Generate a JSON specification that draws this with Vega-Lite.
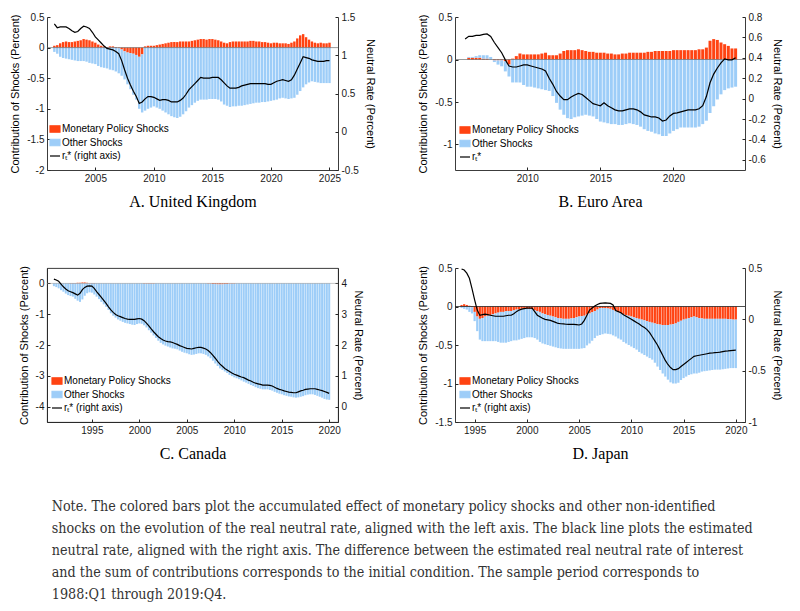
{
  "$schema": "https://vega.github.io/schema/vega-lite/v6.json",
  "padding": {"left": 9, "top": 12, "right": 0, "bottom": 0},
  "background": "white",
  "datasets": {
    "uk": [
      {"t":2001.5,"m":0.03,"o":-0.07,"r":1.41},{"t":2001.75,"m":0.04,"o":-0.10,"r":1.36},{"t":2002,"m":0.07,"o":-0.15,"r":1.37},{"t":2002.25,"m":0.09,"o":-0.17,"r":1.37},
      {"t":2002.5,"m":0.10,"o":-0.18,"r":1.37},{"t":2002.75,"m":0.09,"o":-0.19,"r":1.35},{"t":2003,"m":0.09,"o":-0.20,"r":1.32},{"t":2003.25,"m":0.10,"o":-0.21,"r":1.30},
      {"t":2003.5,"m":0.11,"o":-0.22,"r":1.31},{"t":2003.75,"m":0.12,"o":-0.22,"r":1.35},{"t":2004,"m":0.14,"o":-0.22,"r":1.38},{"t":2004.25,"m":0.13,"o":-0.23,"r":1.37},
      {"t":2004.5,"m":0.12,"o":-0.25,"r":1.35},{"t":2004.75,"m":0.10,"o":-0.26,"r":1.30},{"t":2005,"m":0.08,"o":-0.27,"r":1.24},{"t":2005.25,"m":0.05,"o":-0.30,"r":1.20},
      {"t":2005.5,"m":0.03,"o":-0.32,"r":1.16},{"t":2005.75,"m":0.02,"o":-0.33,"r":1.12},{"t":2006,"m":0.01,"o":-0.34,"r":1.09},{"t":2006.25,"m":0.02,"o":-0.36,"r":1.08},
      {"t":2006.5,"m":0.02,"o":-0.37,"r":1.07},{"t":2006.75,"m":0.01,"o":-0.39,"r":1.05},{"t":2007,"m":-0.01,"o":-0.41,"r":1.02},{"t":2007.25,"m":-0.03,"o":-0.43,"r":0.93},
      {"t":2007.5,"m":-0.06,"o":-0.46,"r":0.81},{"t":2007.75,"m":-0.08,"o":-0.52,"r":0.70},{"t":2008,"m":-0.09,"o":-0.59,"r":0.61},{"t":2008.25,"m":-0.10,"o":-0.67,"r":0.53},
      {"t":2008.5,"m":-0.12,"o":-0.73,"r":0.46},{"t":2008.75,"m":-0.15,"o":-0.85,"r":0.37},{"t":2009,"m":-0.11,"o":-0.95,"r":0.39},{"t":2009.25,"m":0.02,"o":-1.03,"r":0.43},
      {"t":2009.5,"m":0.03,"o":-1.00,"r":0.46},{"t":2009.75,"m":0.03,"o":-0.98,"r":0.46},{"t":2010,"m":0.03,"o":-0.96,"r":0.45},{"t":2010.25,"m":0.04,"o":-0.98,"r":0.43},
      {"t":2010.5,"m":0.05,"o":-1.00,"r":0.41},{"t":2010.75,"m":0.06,"o":-1.03,"r":0.42},{"t":2011,"m":0.07,"o":-1.06,"r":0.42},{"t":2011.25,"m":0.08,"o":-1.09,"r":0.41},
      {"t":2011.5,"m":0.09,"o":-1.12,"r":0.39},{"t":2011.75,"m":0.09,"o":-1.14,"r":0.39},{"t":2012,"m":0.09,"o":-1.15,"r":0.39},{"t":2012.25,"m":0.10,"o":-1.13,"r":0.41},
      {"t":2012.5,"m":0.10,"o":-1.09,"r":0.44},{"t":2012.75,"m":0.10,"o":-1.04,"r":0.49},{"t":2013,"m":0.10,"o":-0.98,"r":0.55},{"t":2013.25,"m":0.11,"o":-0.94,"r":0.59},
      {"t":2013.5,"m":0.12,"o":-0.90,"r":0.63},{"t":2013.75,"m":0.13,"o":-0.87,"r":0.67},{"t":2014,"m":0.14,"o":-0.85,"r":0.71},{"t":2014.25,"m":0.14,"o":-0.85,"r":0.70},
      {"t":2014.5,"m":0.13,"o":-0.85,"r":0.70},{"t":2014.75,"m":0.14,"o":-0.84,"r":0.70},{"t":2015,"m":0.14,"o":-0.84,"r":0.71},{"t":2015.25,"m":0.13,"o":-0.84,"r":0.71},
      {"t":2015.5,"m":0.12,"o":-0.85,"r":0.71},{"t":2015.75,"m":0.10,"o":-0.88,"r":0.68},{"t":2016,"m":0.08,"o":-0.93,"r":0.64},{"t":2016.25,"m":0.07,"o":-0.95,"r":0.60},
      {"t":2016.5,"m":0.09,"o":-0.97,"r":0.57},{"t":2016.75,"m":0.10,"o":-0.96,"r":0.57},{"t":2017,"m":0.10,"o":-0.96,"r":0.57},{"t":2017.25,"m":0.10,"o":-0.95,"r":0.58},
      {"t":2017.5,"m":0.10,"o":-0.95,"r":0.60},{"t":2017.75,"m":0.10,"o":-0.94,"r":0.61},{"t":2018,"m":0.10,"o":-0.93,"r":0.62},{"t":2018.25,"m":0.11,"o":-0.92,"r":0.63},
      {"t":2018.5,"m":0.11,"o":-0.91,"r":0.63},{"t":2018.75,"m":0.10,"o":-0.90,"r":0.63},{"t":2019,"m":0.10,"o":-0.90,"r":0.63},{"t":2019.25,"m":0.09,"o":-0.89,"r":0.63},
      {"t":2019.5,"m":0.09,"o":-0.89,"r":0.63},{"t":2019.75,"m":0.08,"o":-0.88,"r":0.62},{"t":2020,"m":0.07,"o":-0.87,"r":0.62},{"t":2020.25,"m":0.08,"o":-0.86,"r":0.64},
      {"t":2020.5,"m":0.08,"o":-0.85,"r":0.66},{"t":2020.75,"m":0.07,"o":-0.83,"r":0.67},{"t":2021,"m":0.07,"o":-0.82,"r":0.68},{"t":2021.25,"m":0.07,"o":-0.83,"r":0.67},
      {"t":2021.5,"m":0.06,"o":-0.84,"r":0.66},{"t":2021.75,"m":0.08,"o":-0.83,"r":0.68},{"t":2022,"m":0.10,"o":-0.82,"r":0.74},{"t":2022.25,"m":0.15,"o":-0.77,"r":0.82},
      {"t":2022.5,"m":0.20,"o":-0.71,"r":0.90},{"t":2022.75,"m":0.22,"o":-0.65,"r":0.98},{"t":2023,"m":0.17,"o":-0.60,"r":0.97},{"t":2023.25,"m":0.13,"o":-0.57,"r":0.96},
      {"t":2023.5,"m":0.10,"o":-0.55,"r":0.94},{"t":2023.75,"m":0.08,"o":-0.56,"r":0.93},{"t":2024,"m":0.07,"o":-0.57,"r":0.92},{"t":2024.25,"m":0.08,"o":-0.58,"r":0.92},
      {"t":2024.5,"m":0.07,"o":-0.58,"r":0.92},{"t":2024.75,"m":0.07,"o":-0.58,"r":0.93},{"t":2025,"m":0.08,"o":-0.58,"r":0.93}
    ],
    "ea": [
      {"t":2005.75,"r":0.585},{"t":2006,"m":0.02,"o":0.01,"r":0.61},{"t":2006.25,"m":0.02,"o":0.01,"r":0.61},{"t":2006.5,"m":0.02,"o":0.02,"r":0.62},
      {"t":2006.75,"m":0.02,"o":0.03,"r":0.62},{"t":2007,"m":0.01,"o":0.04,"r":0.63},{"t":2007.25,"m":0.01,"o":0.04,"r":0.634},{"t":2007.5,"m":0.0,"o":0.03,"r":0.61},
      {"t":2007.75,"m":-0.01,"o":-0.02,"r":0.55},{"t":2008,"m":-0.01,"o":-0.05,"r":0.50},{"t":2008.25,"m":-0.01,"o":-0.07,"r":0.45},{"t":2008.5,"m":-0.02,"o":-0.12,"r":0.38},
      {"t":2008.75,"m":-0.06,"o":-0.14,"r":0.32},{"t":2009,"m":0.01,"o":-0.27,"r":0.31},{"t":2009.25,"m":0.04,"o":-0.27,"r":0.31},{"t":2009.5,"m":0.07,"o":-0.27,"r":0.32},
      {"t":2009.75,"m":0.06,"o":-0.30,"r":0.33},{"t":2010,"m":0.06,"o":-0.32,"r":0.33},{"t":2010.25,"m":0.06,"o":-0.32,"r":0.32},{"t":2010.5,"m":0.06,"o":-0.33,"r":0.31},
      {"t":2010.75,"m":0.06,"o":-0.34,"r":0.30},{"t":2011,"m":0.07,"o":-0.35,"r":0.29},{"t":2011.25,"m":0.08,"o":-0.36,"r":0.27},{"t":2011.5,"m":0.05,"o":-0.37,"r":0.20},
      {"t":2011.75,"m":0.05,"o":-0.43,"r":0.14},{"t":2012,"m":0.05,"o":-0.51,"r":0.07},{"t":2012.25,"m":0.07,"o":-0.59,"r":0.025},{"t":2012.5,"m":0.10,"o":-0.65,"r":-0.01},
      {"t":2012.75,"m":0.11,"o":-0.69,"r":-0.01},{"t":2013,"m":0.11,"o":-0.70,"r":0.015},{"t":2013.25,"m":0.11,"o":-0.68,"r":0.035},{"t":2013.5,"m":0.12,"o":-0.67,"r":0.05},
      {"t":2013.75,"m":0.11,"o":-0.66,"r":0.04},{"t":2014,"m":0.10,"o":-0.65,"r":0.01},{"t":2014.25,"m":0.09,"o":-0.66,"r":-0.02},{"t":2014.5,"m":0.09,"o":-0.67,"r":-0.05},
      {"t":2014.75,"m":0.08,"o":-0.70,"r":-0.06},{"t":2015,"m":0.08,"o":-0.73,"r":-0.07},{"t":2015.25,"m":0.08,"o":-0.74,"r":-0.04},{"t":2015.5,"m":0.07,"o":-0.75,"r":-0.07},
      {"t":2015.75,"m":0.07,"o":-0.76,"r":-0.09},{"t":2016,"m":0.06,"o":-0.76,"r":-0.11},{"t":2016.25,"m":0.06,"o":-0.77,"r":-0.12},{"t":2016.5,"m":0.07,"o":-0.77,"r":-0.12},
      {"t":2016.75,"m":0.07,"o":-0.76,"r":-0.11},{"t":2017,"m":0.08,"o":-0.75,"r":-0.10},{"t":2017.25,"m":0.08,"o":-0.76,"r":-0.10},{"t":2017.5,"m":0.08,"o":-0.77,"r":-0.11},
      {"t":2017.75,"m":0.08,"o":-0.79,"r":-0.13},{"t":2018,"m":0.08,"o":-0.82,"r":-0.16},{"t":2018.25,"m":0.09,"o":-0.84,"r":-0.17},{"t":2018.5,"m":0.09,"o":-0.85,"r":-0.18},
      {"t":2018.75,"m":0.10,"o":-0.87,"r":-0.18},{"t":2019,"m":0.10,"o":-0.88,"r":-0.19},{"t":2019.25,"m":0.10,"o":-0.90,"r":-0.22},{"t":2019.5,"m":0.10,"o":-0.90,"r":-0.21},
      {"t":2019.75,"m":0.10,"o":-0.87,"r":-0.17},{"t":2020,"m":0.11,"o":-0.84,"r":-0.145},{"t":2020.25,"m":0.11,"o":-0.82,"r":-0.14},{"t":2020.5,"m":0.11,"o":-0.80,"r":-0.13},
      {"t":2020.75,"m":0.11,"o":-0.80,"r":-0.12},{"t":2021,"m":0.11,"o":-0.80,"r":-0.11},{"t":2021.25,"m":0.11,"o":-0.80,"r":-0.11},{"t":2021.5,"m":0.11,"o":-0.80,"r":-0.11},
      {"t":2021.75,"m":0.12,"o":-0.79,"r":-0.10},{"t":2022,"m":0.12,"o":-0.76,"r":-0.07},{"t":2022.25,"m":0.14,"o":-0.72,"r":0.02},{"t":2022.5,"m":0.22,"o":-0.63,"r":0.155},
      {"t":2022.75,"m":0.24,"o":-0.55,"r":0.24},{"t":2023,"m":0.23,"o":-0.47,"r":0.30},{"t":2023.25,"m":0.20,"o":-0.41,"r":0.35},{"t":2023.5,"m":0.18,"o":-0.36,"r":0.39},
      {"t":2023.75,"m":0.16,"o":-0.34,"r":0.38},{"t":2024,"m":0.13,"o":-0.33,"r":0.38},{"t":2024.25,"m":0.13,"o":-0.32,"r":0.40}
    ],
    "ca": [
      {"t":1991,"m":0,"o":-0.09,"r":4.14},{"t":1991.25,"m":0,"o":-0.12,"r":4.11},{"t":1991.5,"m":0,"o":-0.16,"r":4.07},{"t":1991.75,"m":0,"o":-0.22,"r":3.98},
      {"t":1992,"m":0,"o":-0.27,"r":3.89},{"t":1992.25,"m":0,"o":-0.33,"r":3.82},{"t":1992.5,"m":0,"o":-0.38,"r":3.76},{"t":1992.75,"m":0.01,"o":-0.41,"r":3.73},
      {"t":1993,"m":0.01,"o":-0.43,"r":3.70},{"t":1993.25,"m":0.01,"o":-0.50,"r":3.66},{"t":1993.5,"m":0.02,"o":-0.56,"r":3.62},{"t":1993.75,"m":0.02,"o":-0.60,"r":3.68},
      {"t":1994,"m":0.03,"o":-0.52,"r":3.80},{"t":1994.25,"m":0.03,"o":-0.40,"r":3.87},{"t":1994.5,"m":0.02,"o":-0.32,"r":3.91},{"t":1994.75,"m":0.01,"o":-0.29,"r":3.92},
      {"t":1995,"m":0.01,"o":-0.30,"r":3.91},{"t":1995.25,"m":0.01,"o":-0.36,"r":3.84},{"t":1995.5,"m":0,"o":-0.43,"r":3.73},{"t":1995.75,"m":0,"o":-0.51,"r":3.64},
      {"t":1996,"m":0,"o":-0.60,"r":3.55},{"t":1996.25,"m":0,"o":-0.68,"r":3.45},{"t":1996.5,"m":0,"o":-0.76,"r":3.35},{"t":1996.75,"m":0,"o":-0.86,"r":3.24},
      {"t":1997,"m":0,"o":-0.97,"r":3.14},{"t":1997.25,"m":0,"o":-1.05,"r":3.06},{"t":1997.5,"m":0,"o":-1.11,"r":2.99},{"t":1997.75,"m":0,"o":-1.17,"r":2.95},
      {"t":1998,"m":0,"o":-1.21,"r":2.92},{"t":1998.25,"m":0,"o":-1.25,"r":2.89},{"t":1998.5,"m":0,"o":-1.28,"r":2.86},{"t":1998.75,"m":0,"o":-1.30,"r":2.84},
      {"t":1999,"m":0,"o":-1.32,"r":2.83},{"t":1999.25,"m":0,"o":-1.34,"r":2.83},{"t":1999.5,"m":0,"o":-1.35,"r":2.83},{"t":1999.75,"m":0,"o":-1.32,"r":2.85},
      {"t":2000,"m":0,"o":-1.30,"r":2.86},{"t":2000.25,"m":0,"o":-1.31,"r":2.84},{"t":2000.5,"m":-0.01,"o":-1.35,"r":2.79},{"t":2000.75,"m":-0.01,"o":-1.42,"r":2.71},
      {"t":2001,"m":-0.01,"o":-1.51,"r":2.62},{"t":2001.25,"m":-0.01,"o":-1.59,"r":2.52},{"t":2001.5,"m":-0.01,"o":-1.68,"r":2.43},{"t":2001.75,"m":0,"o":-1.77,"r":2.35},
      {"t":2002,"m":0,"o":-1.86,"r":2.27},{"t":2002.25,"m":0,"o":-1.93,"r":2.21},{"t":2002.5,"m":0,"o":-1.98,"r":2.16},{"t":2002.75,"m":0,"o":-2.02,"r":2.13},
      {"t":2003,"m":0,"o":-2.05,"r":2.11},{"t":2003.25,"m":0,"o":-2.08,"r":2.10},{"t":2003.5,"m":0,"o":-2.11,"r":2.08},{"t":2003.75,"m":0,"o":-2.12,"r":2.05},
      {"t":2004,"m":0,"o":-2.14,"r":2.02},{"t":2004.25,"m":0,"o":-2.18,"r":1.98},{"t":2004.5,"m":0,"o":-2.22,"r":1.95},{"t":2004.75,"m":0,"o":-2.25,"r":1.92},
      {"t":2005,"m":0,"o":-2.27,"r":1.89},{"t":2005.25,"m":0,"o":-2.30,"r":1.88},{"t":2005.5,"m":0,"o":-2.32,"r":1.87},{"t":2005.75,"m":0,"o":-2.31,"r":1.89},
      {"t":2006,"m":0,"o":-2.29,"r":1.91},{"t":2006.25,"m":0,"o":-2.27,"r":1.92},{"t":2006.5,"m":0,"o":-2.27,"r":1.92},{"t":2006.75,"m":0,"o":-2.29,"r":1.90},
      {"t":2007,"m":0,"o":-2.32,"r":1.87},{"t":2007.25,"m":-0.01,"o":-2.36,"r":1.82},{"t":2007.5,"m":-0.01,"o":-2.42,"r":1.75},{"t":2007.75,"m":-0.02,"o":-2.49,"r":1.66},
      {"t":2008,"m":-0.02,"o":-2.58,"r":1.57},{"t":2008.25,"m":-0.03,"o":-2.65,"r":1.47},{"t":2008.5,"m":-0.03,"o":-2.73,"r":1.38},{"t":2008.75,"m":-0.03,"o":-2.78,"r":1.31},
      {"t":2009,"m":-0.02,"o":-2.84,"r":1.24},{"t":2009.25,"m":-0.02,"o":-2.89,"r":1.19},{"t":2009.5,"m":-0.01,"o":-2.96,"r":1.14},{"t":2009.75,"m":-0.01,"o":-3.00,"r":1.09},
      {"t":2010,"m":-0.01,"o":-3.04,"r":1.05},{"t":2010.25,"m":0,"o":-3.08,"r":1.02},{"t":2010.5,"m":0,"o":-3.11,"r":0.99},{"t":2010.75,"m":0,"o":-3.15,"r":0.96},
      {"t":2011,"m":0,"o":-3.19,"r":0.94},{"t":2011.25,"m":0,"o":-3.22,"r":0.90},{"t":2011.5,"m":0,"o":-3.26,"r":0.86},{"t":2011.75,"m":0,"o":-3.30,"r":0.83},
      {"t":2012,"m":0,"o":-3.33,"r":0.79},{"t":2012.25,"m":0,"o":-3.37,"r":0.76},{"t":2012.5,"m":0,"o":-3.40,"r":0.74},{"t":2012.75,"m":0,"o":-3.42,"r":0.72},
      {"t":2013,"m":0,"o":-3.44,"r":0.70},{"t":2013.25,"m":0,"o":-3.44,"r":0.70},{"t":2013.5,"m":0,"o":-3.44,"r":0.70},{"t":2013.75,"m":0,"o":-3.46,"r":0.69},
      {"t":2014,"m":0,"o":-3.48,"r":0.67},{"t":2014.25,"m":0,"o":-3.52,"r":0.63},{"t":2014.5,"m":0,"o":-3.55,"r":0.59},{"t":2014.75,"m":0,"o":-3.58,"r":0.56},
      {"t":2015,"m":0,"o":-3.60,"r":0.54},{"t":2015.25,"m":0,"o":-3.63,"r":0.51},{"t":2015.5,"m":0,"o":-3.65,"r":0.49},{"t":2015.75,"m":0,"o":-3.67,"r":0.47},
      {"t":2016,"m":0,"o":-3.68,"r":0.46},{"t":2016.25,"m":0,"o":-3.70,"r":0.45},{"t":2016.5,"m":0,"o":-3.71,"r":0.45},{"t":2016.75,"m":0,"o":-3.70,"r":0.48},
      {"t":2017,"m":0,"o":-3.68,"r":0.51},{"t":2017.25,"m":0,"o":-3.66,"r":0.53},{"t":2017.5,"m":0,"o":-3.63,"r":0.56},{"t":2017.75,"m":0,"o":-3.61,"r":0.57},
      {"t":2018,"m":0,"o":-3.60,"r":0.58},{"t":2018.25,"m":0,"o":-3.60,"r":0.58},{"t":2018.5,"m":0,"o":-3.62,"r":0.58},{"t":2018.75,"m":0,"o":-3.65,"r":0.56},
      {"t":2019,"m":0,"o":-3.68,"r":0.54},{"t":2019.25,"m":0,"o":-3.71,"r":0.52},{"t":2019.5,"m":0,"o":-3.75,"r":0.49},{"t":2019.75,"m":0,"o":-3.77,"r":0.46},
      {"t":2020,"m":0,"o":-3.78,"r":0.43}
    ],
    "jp": [
      {"t":1993.75,"m":0.02,"o":-0.02,"r":0.49},{"t":1994,"m":0.03,"o":-0.03,"r":0.48},{"t":1994.25,"m":0.02,"o":-0.04,"r":0.45},{"t":1994.5,"m":0.01,"o":-0.07,"r":0.40},
      {"t":1994.75,"m":-0.01,"o":-0.08,"r":0.30},{"t":1995,"m":-0.07,"o":-0.12,"r":0.19},{"t":1995.25,"m":-0.13,"o":-0.19,"r":0.09},{"t":1995.5,"m":-0.16,"o":-0.27,"r":0.04},
      {"t":1995.75,"m":-0.15,"o":-0.30,"r":0.045},{"t":1996,"m":-0.13,"o":-0.32,"r":0.05},{"t":1996.25,"m":-0.12,"o":-0.33,"r":0.045},{"t":1996.5,"m":-0.11,"o":-0.34,"r":0.04},
      {"t":1996.75,"m":-0.10,"o":-0.35,"r":0.035},{"t":1997,"m":-0.09,"o":-0.36,"r":0.03},{"t":1997.25,"m":-0.08,"o":-0.38,"r":0.03},{"t":1997.5,"m":-0.07,"o":-0.40,"r":0.03},
      {"t":1997.75,"m":-0.07,"o":-0.40,"r":0.03},{"t":1998,"m":-0.06,"o":-0.41,"r":0.035},{"t":1998.25,"m":-0.06,"o":-0.40,"r":0.04},{"t":1998.5,"m":-0.06,"o":-0.39,"r":0.04},
      {"t":1998.75,"m":-0.05,"o":-0.39,"r":0.055},{"t":1999,"m":-0.04,"o":-0.40,"r":0.075},{"t":1999.25,"m":-0.04,"o":-0.39,"r":0.09},{"t":1999.5,"m":-0.03,"o":-0.39,"r":0.10},
      {"t":1999.75,"m":-0.03,"o":-0.38,"r":0.105},{"t":2000,"m":-0.03,"o":-0.37,"r":0.11},{"t":2000.25,"m":-0.03,"o":-0.37,"r":0.11},{"t":2000.5,"m":-0.035,"o":-0.365,"r":0.11},
      {"t":2000.75,"m":-0.05,"o":-0.36,"r":0.075},{"t":2001,"m":-0.06,"o":-0.37,"r":0.04},{"t":2001.25,"m":-0.07,"o":-0.39,"r":0.025},{"t":2001.5,"m":-0.09,"o":-0.39,"r":0.01},
      {"t":2001.75,"m":-0.10,"o":-0.39,"r":0.0},{"t":2002,"m":-0.11,"o":-0.39,"r":-0.005},{"t":2002.25,"m":-0.12,"o":-0.39,"r":-0.01},{"t":2002.5,"m":-0.13,"o":-0.39,"r":-0.02},
      {"t":2002.75,"m":-0.14,"o":-0.39,"r":-0.03},{"t":2003,"m":-0.15,"o":-0.39,"r":-0.04},{"t":2003.25,"m":-0.155,"o":-0.39,"r":-0.043},{"t":2003.5,"m":-0.16,"o":-0.39,"r":-0.045},
      {"t":2003.75,"m":-0.16,"o":-0.39,"r":-0.048},{"t":2004,"m":-0.16,"o":-0.39,"r":-0.05},{"t":2004.25,"m":-0.155,"o":-0.395,"r":-0.05},{"t":2004.5,"m":-0.15,"o":-0.40,"r":-0.05},
      {"t":2004.75,"m":-0.14,"o":-0.41,"r":-0.052},{"t":2005,"m":-0.13,"o":-0.42,"r":-0.055},{"t":2005.25,"m":-0.125,"o":-0.42,"r":-0.045},{"t":2005.5,"m":-0.12,"o":-0.42,"r":-0.01},
      {"t":2005.75,"m":-0.105,"o":-0.40,"r":0.04},{"t":2006,"m":-0.09,"o":-0.39,"r":0.09},{"t":2006.25,"m":-0.075,"o":-0.37,"r":0.11},{"t":2006.5,"m":-0.06,"o":-0.35,"r":0.13},
      {"t":2006.75,"m":-0.04,"o":-0.34,"r":0.145},{"t":2007,"m":-0.02,"o":-0.35,"r":0.155},{"t":2007.25,"m":-0.02,"o":-0.34,"r":0.158},{"t":2007.5,"m":-0.02,"o":-0.33,"r":0.16},
      {"t":2007.75,"m":-0.025,"o":-0.33,"r":0.158},{"t":2008,"m":-0.03,"o":-0.33,"r":0.155},{"t":2008.25,"m":-0.045,"o":-0.33,"r":0.14},{"t":2008.5,"m":-0.06,"o":-0.33,"r":0.085},
      {"t":2008.75,"m":-0.075,"o":-0.34,"r":0.075},{"t":2009,"m":-0.09,"o":-0.34,"r":0.065},{"t":2009.25,"m":-0.10,"o":-0.36,"r":0.045},{"t":2009.5,"m":-0.11,"o":-0.37,"r":0.03},
      {"t":2009.75,"m":-0.12,"o":-0.38,"r":0.015},{"t":2010,"m":-0.13,"o":-0.39,"r":0.0},{"t":2010.25,"m":-0.14,"o":-0.40,"r":-0.015},{"t":2010.5,"m":-0.15,"o":-0.41,"r":-0.03},
      {"t":2010.75,"m":-0.16,"o":-0.43,"r":-0.045},{"t":2011,"m":-0.17,"o":-0.44,"r":-0.065},{"t":2011.25,"m":-0.18,"o":-0.45,"r":-0.08},{"t":2011.5,"m":-0.19,"o":-0.46,"r":-0.10},
      {"t":2011.75,"m":-0.20,"o":-0.47,"r":-0.13},{"t":2012,"m":-0.21,"o":-0.48,"r":-0.17},{"t":2012.25,"m":-0.22,"o":-0.51,"r":-0.21},{"t":2012.5,"m":-0.23,"o":-0.55,"r":-0.25},
      {"t":2012.75,"m":-0.235,"o":-0.59,"r":-0.30},{"t":2013,"m":-0.24,"o":-0.63,"r":-0.35},{"t":2013.25,"m":-0.24,"o":-0.67,"r":-0.40},{"t":2013.5,"m":-0.24,"o":-0.71,"r":-0.44},
      {"t":2013.75,"m":-0.235,"o":-0.75,"r":-0.47},{"t":2014,"m":-0.23,"o":-0.77,"r":-0.49},{"t":2014.25,"m":-0.22,"o":-0.78,"r":-0.49},{"t":2014.5,"m":-0.20,"o":-0.79,"r":-0.48},
      {"t":2014.75,"m":-0.185,"o":-0.77,"r":-0.46},{"t":2015,"m":-0.17,"o":-0.76,"r":-0.44},{"t":2015.25,"m":-0.16,"o":-0.75,"r":-0.42},{"t":2015.5,"m":-0.15,"o":-0.74,"r":-0.40},
      {"t":2015.75,"m":-0.14,"o":-0.74,"r":-0.38},{"t":2016,"m":-0.13,"o":-0.74,"r":-0.36},{"t":2016.25,"m":-0.14,"o":-0.73,"r":-0.355},{"t":2016.5,"m":-0.15,"o":-0.71,"r":-0.35},
      {"t":2016.75,"m":-0.155,"o":-0.69,"r":-0.345},{"t":2017,"m":-0.16,"o":-0.68,"r":-0.34},{"t":2017.25,"m":-0.16,"o":-0.675,"r":-0.335},{"t":2017.5,"m":-0.16,"o":-0.67,"r":-0.33},
      {"t":2017.75,"m":-0.16,"o":-0.665,"r":-0.328},{"t":2018,"m":-0.16,"o":-0.66,"r":-0.325},{"t":2018.25,"m":-0.16,"o":-0.66,"r":-0.323},{"t":2018.5,"m":-0.16,"o":-0.66,"r":-0.32},
      {"t":2018.75,"m":-0.16,"o":-0.655,"r":-0.315},{"t":2019,"m":-0.16,"o":-0.65,"r":-0.31},{"t":2019.25,"m":-0.165,"o":-0.64,"r":-0.308},{"t":2019.5,"m":-0.165,"o":-0.635,"r":-0.305},
      {"t":2019.75,"m":-0.17,"o":-0.63,"r":-0.302},{"t":2020,"m":-0.17,"o":-0.63,"r":-0.30}
    ]
  },
  "title": {
    "text": [
      "Note. The colored bars plot the accumulated effect of monetary policy shocks and other non-identified",
      "shocks on the evolution of the real neutral rate, aligned with the left axis. The black line plots the estimated",
      "neutral rate, aligned with the right axis. The difference between the estimated real neutral rate of interest",
      "and the sum of contributions corresponds to the initial condition. The sample period corresponds to",
      "1988:Q1 through 2019:Q4."
    ],
    "orient": "bottom",
    "anchor": "start",
    "frame": "bounds",
    "font": "DejaVu Serif Condensed, Liberation Serif",
    "fontSize": 14.2,
    "fontWeight": "normal",
    "color": "#333333",
    "lineHeight": 22,
    "baseline": "top",
    "offset": 39,
    "dx": 42
  },
  "columns": 2,
  "bounds": "flush",
  "spacing": {"row": 98, "column": 117},
  "concat": [
    {
      "width": 291, "height": 153,
      "data": {"name": "uk"},
      "layer": [
        {"layer": [
          {
            "transform": [{"fold": ["m", "o"], "as": ["key", "val"]}, {"filter": "isValid(datum.val)"}],
            "mark": {"type": "bar", "size": 2.4},
            "encoding": {
              "x": {"field": "t", "type": "quantitative", "scale": {"domain": [2001.3, 2025.3], "nice": false, "zero": false},
                    "axis": {"values": [2005, 2010, 2015, 2020, 2025], "title": "A. United Kingdom"}},
              "y": {"field": "val", "type": "quantitative", "stack": "zero", "scale": {"domain": [-2, 0.5], "nice": false},
                    "axis": {"values": [-2, -1.5, -1, -0.5, 0, 0.5], "labelOverlap": false, "title": "Contribution of Shocks (Percent)"}},
              "color": {"field": "key", "type": "nominal",
                        "scale": {"domain": ["m", "o", "r"], "range": ["#FF4312", "#9DCDF8", "#000000"]},
                        "legend": {"orient": "none", "legendX": 2, "legendY": 106, "direction": "vertical", "title": null,
                                   "labelExpr": "datum.value == 'm' ? 'Monetary Policy Shocks' : datum.value == 'o' ? 'Other Shocks' : 'rₜ* (right axis)'",
                                   "encode": {"symbols": {"update": {
                                     "shape": {"signal": "datum.value == 'r' ? 'M-1,0H1' : 'M-1,-0.65H1V0.65H-1Z'"},
                                     "fill": {"signal": "datum.value == 'm' ? '#FF4312' : datum.value == 'o' ? '#9DCDF8' : 'transparent'"},
                                     "stroke": {"signal": "datum.value == 'r' ? '#000000' : 'transparent'"},
                                     "strokeWidth": {"value": 1.2}, "size": {"value": 100}, "opacity": {"value": 1}}}}}},
              "order": {"field": "key", "sort": "ascending"}
            }
          },
          {"data": {"values": [{}]}, "mark": {"type": "rule", "color": "#555555", "strokeWidth": 0.6},
           "encoding": {"y": {"datum": 0, "type": "quantitative", "axis": {"values": [-2, -1.5, -1, -0.5, 0, 0.5], "labelOverlap": false, "title": "Contribution of Shocks (Percent)"}}}}
        ]},
        {
          "mark": {"type": "line", "strokeWidth": 1.2},
          "encoding": {
            "x": {"field": "t", "type": "quantitative"},
            "y": {"field": "r", "type": "quantitative", "scale": {"domain": [-0.5, 1.5], "nice": false},
                  "axis": {"orient": "right", "values": [-0.5, 0, 0.5, 1, 1.5], "labelOverlap": false, "title": "Neutral Rate (Percent)"}},
            "color": {"datum": "r", "type": "nominal"}
          }
        }
      ],
      "resolve": {"scale": {"y": "independent"}}
    },
    {
      "width": 290, "height": 153,
      "data": {"name": "ea"},
      "layer": [
        {"layer": [
          {
            "transform": [{"fold": ["m", "o"], "as": ["key", "val"]}, {"filter": "isValid(datum.val)"}],
            "mark": {"type": "bar", "size": 3},
            "encoding": {
              "x": {"field": "t", "type": "quantitative", "scale": {"domain": [2005.4, 2024.55], "nice": false, "zero": false},
                    "axis": {"values": [2010, 2015, 2020], "title": "B. Euro Area"}},
              "y": {"field": "val", "type": "quantitative", "stack": "zero", "scale": {"domain": [-1.3, 0.5], "nice": false},
                    "axis": {"values": [-1, -0.5, 0, 0.5], "labelOverlap": false, "title": "Contribution of Shocks (Percent)"}},
              "color": {"field": "key", "type": "nominal",
                        "scale": {"domain": ["m", "o", "r"], "range": ["#FF4312", "#9DCDF8", "#000000"]},
                        "legend": {"orient": "none", "legendX": 4, "legendY": 107, "direction": "vertical", "title": null,
                                   "labelExpr": "datum.value == 'm' ? 'Monetary Policy Shocks' : datum.value == 'o' ? 'Other Shocks' : 'rₜ*'",
                                   "encode": {"symbols": {"update": {
                                     "shape": {"signal": "datum.value == 'r' ? 'M-1,0H1' : 'M-1,-0.65H1V0.65H-1Z'"},
                                     "fill": {"signal": "datum.value == 'm' ? '#FF4312' : datum.value == 'o' ? '#9DCDF8' : 'transparent'"},
                                     "stroke": {"signal": "datum.value == 'r' ? '#000000' : 'transparent'"},
                                     "strokeWidth": {"value": 1.2}, "size": {"value": 100}, "opacity": {"value": 1}}}}}},
              "order": {"field": "key", "sort": "ascending"}
            }
          },
          {"data": {"values": [{}]}, "mark": {"type": "rule", "color": "#555555", "strokeWidth": 0.6},
           "encoding": {"y": {"datum": 0, "type": "quantitative", "axis": {"values": [-1, -0.5, 0, 0.5], "labelOverlap": false, "title": "Contribution of Shocks (Percent)"}}}}
        ]},
        {
          "mark": {"type": "line", "strokeWidth": 1.2},
          "encoding": {
            "x": {"field": "t", "type": "quantitative"},
            "y": {"field": "r", "type": "quantitative", "scale": {"domain": [-0.7, 0.8], "nice": false},
                  "axis": {"orient": "right", "values": [-0.6, -0.4, -0.2, 0, 0.2, 0.4, 0.6, 0.8], "labelOverlap": false, "title": "Neutral Rate (Percent)"}},
            "color": {"datum": "r", "type": "nominal"}
          }
        }
      ],
      "resolve": {"scale": {"y": "independent"}}
    },
    {
      "width": 291, "height": 154,
      "data": {"name": "ca"},
      "view": {"stroke": "#262626", "strokeWidth": 0.9},
      "layer": [
        {"layer": [
          {
            "transform": [{"fold": ["m", "o"], "as": ["key", "val"]}, {"filter": "isValid(datum.val)"}],
            "mark": {"type": "bar", "size": 2},
            "encoding": {
              "x": {"field": "t", "type": "quantitative", "scale": {"domain": [1990.8, 2020.4], "nice": false, "zero": false},
                    "axis": {"values": [1995, 2000, 2005, 2010, 2015, 2020], "title": "C. Canada"}},
              "y": {"field": "val", "type": "quantitative", "stack": "zero", "scale": {"domain": [-4.5, 0.5], "nice": false},
                    "axis": {"values": [-4, -3, -2, -1, 0], "labelOverlap": false, "title": "Contribution of Shocks (Percent)"}},
              "color": {"field": "key", "type": "nominal",
                        "scale": {"domain": ["m", "o", "r"], "range": ["#FF4312", "#9DCDF8", "#000000"]},
                        "legend": {"orient": "none", "legendX": 4, "legendY": 107, "direction": "vertical", "title": null,
                                   "labelExpr": "datum.value == 'm' ? 'Monetary Policy Shocks' : datum.value == 'o' ? 'Other Shocks' : 'rₜ* (right axis)'",
                                   "encode": {"symbols": {"update": {
                                     "shape": {"signal": "datum.value == 'r' ? 'M-1,0H1' : 'M-1,-0.65H1V0.65H-1Z'"},
                                     "fill": {"signal": "datum.value == 'm' ? '#FF4312' : datum.value == 'o' ? '#9DCDF8' : 'transparent'"},
                                     "stroke": {"signal": "datum.value == 'r' ? '#000000' : 'transparent'"},
                                     "strokeWidth": {"value": 1.2}, "size": {"value": 100}, "opacity": {"value": 1}}}}}},
              "order": {"field": "key", "sort": "ascending"}
            }
          },
          {"data": {"values": [{}]}, "mark": {"type": "rule", "color": "#888888", "strokeWidth": 0.5},
           "encoding": {"y": {"datum": 0, "type": "quantitative", "axis": {"values": [-4, -3, -2, -1, 0], "labelOverlap": false, "title": "Contribution of Shocks (Percent)"}}}}
        ]},
        {
          "mark": {"type": "line", "strokeWidth": 1.2},
          "encoding": {
            "x": {"field": "t", "type": "quantitative"},
            "y": {"field": "r", "type": "quantitative", "scale": {"domain": [-0.5, 4.5], "nice": false},
                  "axis": {"orient": "right", "values": [0, 1, 2, 3, 4], "labelOverlap": false, "title": "Neutral Rate (Percent)"}},
            "color": {"datum": "r", "type": "nominal"}
          }
        }
      ],
      "resolve": {"scale": {"y": "independent"}}
    },
    {
      "width": 290, "height": 154,
      "data": {"name": "jp"},
      "layer": [
        {"layer": [
          {
            "transform": [{"fold": ["m", "o"], "as": ["key", "val"]}, {"filter": "isValid(datum.val)"}],
            "mark": {"type": "bar", "size": 2.2},
            "encoding": {
              "x": {"field": "t", "type": "quantitative", "scale": {"domain": [1993.6, 2020.4], "nice": false, "zero": false},
                    "axis": {"values": [1995, 2000, 2005, 2010, 2015, 2020], "title": "D. Japan"}},
              "y": {"field": "val", "type": "quantitative", "stack": "zero", "scale": {"domain": [-1.5, 0.5], "nice": false},
                    "axis": {"values": [-1.5, -1, -0.5, 0, 0.5], "labelOverlap": false, "title": "Contribution of Shocks (Percent)"}},
              "color": {"field": "key", "type": "nominal",
                        "scale": {"domain": ["m", "o", "r"], "range": ["#FF4312", "#9DCDF8", "#000000"]},
                        "legend": {"orient": "none", "legendX": 4, "legendY": 107, "direction": "vertical", "title": null,
                                   "labelExpr": "datum.value == 'm' ? 'Monetary Policy Shocks' : datum.value == 'o' ? 'Other Shocks' : 'rₜ* (right axis)'",
                                   "encode": {"symbols": {"update": {
                                     "shape": {"signal": "datum.value == 'r' ? 'M-1,0H1' : 'M-1,-0.65H1V0.65H-1Z'"},
                                     "fill": {"signal": "datum.value == 'm' ? '#FF4312' : datum.value == 'o' ? '#9DCDF8' : 'transparent'"},
                                     "stroke": {"signal": "datum.value == 'r' ? '#000000' : 'transparent'"},
                                     "strokeWidth": {"value": 1.2}, "size": {"value": 100}, "opacity": {"value": 1}}}}}},
              "order": {"field": "key", "sort": "ascending"}
            }
          },
          {"data": {"values": [{}]}, "mark": {"type": "rule", "color": "#222222", "strokeWidth": 0.8},
           "encoding": {"y": {"datum": 0, "type": "quantitative", "axis": {"values": [-1.5, -1, -0.5, 0, 0.5], "labelOverlap": false, "title": "Contribution of Shocks (Percent)"}}}}
        ]},
        {
          "mark": {"type": "line", "strokeWidth": 1.2},
          "encoding": {
            "x": {"field": "t", "type": "quantitative"},
            "y": {"field": "r", "type": "quantitative", "scale": {"domain": [-1, 0.5], "nice": false},
                  "axis": {"orient": "right", "values": [-1, -0.5, 0, 0.5], "labelOverlap": false, "title": "Neutral Rate (Percent)"}},
            "color": {"datum": "r", "type": "nominal"}
          }
        }
      ],
      "resolve": {"scale": {"y": "independent"}}
    }
  ],
  "resolve": {"scale": {"color": "independent", "x": "independent", "y": "independent"}, "legend": {"color": "independent"}},
  "config": {
    "view": {"stroke": null},
    "axis": {
      "grid": false,
      "labelFont": "Liberation Sans", "labelFontSize": 10, "labelColor": "#1a1a1a",
      "labelExpr": "'' + datum.value", "labelOverlap": false, "labelFlush": false,
      "titleFont": "Liberation Sans", "titleFontSize": 11, "titleFontWeight": "normal", "titleColor": "#000000",
      "domainColor": "#262626", "domainWidth": 0.9, "tickColor": "#262626", "tickSize": -3, "labelPadding": 6, "titlePadding": 6
    },
    "axisX": {"titleFont": "Liberation Serif", "titleFontSize": 16, "titlePadding": 10},
    "legend": {"labelFont": "Liberation Sans", "labelFontSize": 10, "labelColor": "#000000", "rowPadding": 1.5, "labelOffset": 1, "padding": 0, "symbolStrokeWidth": 1.2}
  }
}
